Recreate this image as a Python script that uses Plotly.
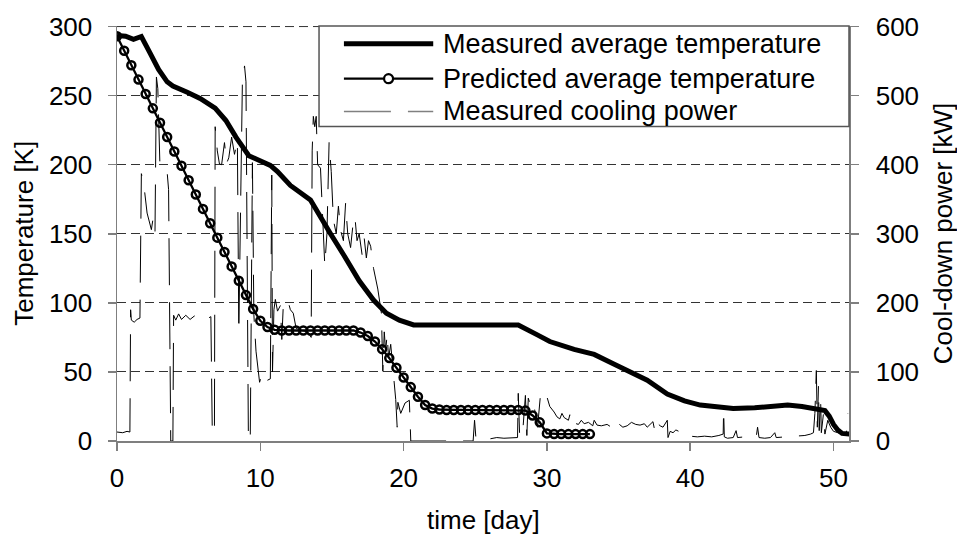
import plotly.graph_objects as go

# ---------------- data ----------------
meas_days = [0, 0.6, 1.15, 1.7, 2.3, 2.9, 3.5, 3.9, 4.9, 5.8, 6.85, 7.6, 8.3, 9.2, 9.75,
             10.7, 11.2, 12.1, 13.5, 14.2, 14.9, 15.8, 16.9, 17.9, 18.8, 19.7, 20.7, 24, 28,
             29.3, 30.2, 31.9, 33.3, 34.7, 35.8, 37.0, 38.4, 39.6, 40.7, 42.0, 43.0, 44.5,
             46.0, 46.8, 47.8, 48.9, 49.4, 49.7, 50.0, 50.3, 50.6, 51.1]
meas_temp = [293.5, 293, 290.7, 292.8, 281, 269, 260, 257, 252.5, 248, 241, 232, 220, 206.5, 204,
             199.5, 195, 185, 174.5, 163, 150, 135, 116, 102, 92.5, 87.5, 84, 84, 84,
             77, 72, 66.3, 62.7, 55.6, 50, 44, 34, 29, 26, 24.5, 23.5, 24,
             25, 26, 25, 23.5, 22, 18, 12, 8, 5.5, 5]

pred_days = [0, 0.5, 1, 1.5, 2, 2.5, 3, 3.5, 4, 4.5, 5, 5.5, 6, 6.5, 7, 7.5, 8, 8.5, 9, 9.5,
             10, 10.5, 11, 11.5, 12, 12.5, 13, 13.5, 14, 14.5, 15, 15.5, 16, 16.5, 17, 17.5,
             18, 18.5, 19, 19.5, 20, 20.5, 21, 21.5, 22, 22.5, 23, 23.5, 24, 24.5, 25, 25.5,
             26, 26.5, 27, 27.5, 28, 28.5, 29, 29.5, 30, 30.5, 31, 31.5, 32, 32.5, 33]
pred_temp = [293, 282.5, 272, 261.6, 251.2, 240.8, 230.4, 220, 209.6, 199.2, 188.8, 178.4, 168,
             157.6, 147.2, 136.8, 126.4, 116, 105.6, 95.5, 87, 82.5, 80.5, 80, 80, 80, 80, 80,
             80, 80, 80, 80, 80, 80, 78.5, 76, 72, 66.5, 60, 53, 46, 39, 32, 26, 23.5, 22.8,
             22.5, 22.5, 22.5, 22.5, 22.5, 22.5, 22.5, 22.5, 22.5, 22.5, 22.5, 22, 18.5, 13.5,
             5.5, 5, 5, 5, 5, 5, 5]

cool_days = [0.0, 0.4, 0.7, 0.9, 0.95, 1.0, 1.2, 1.4, 1.6, 1.7, 1.85, 2.1, 2.4, 2.5, 2.65, 2.75,
             2.85, 3.0, 3.3, 3.5, 3.6, 3.75, 3.9, 3.95, 4.1, 4.3, 4.5, 4.8, 5.1, 5.4, 5.7, 6.0,
             6.3, 6.55, 6.65, 6.8, 6.85, 7.0, 7.15, 7.3, 7.5, 7.65, 7.8, 8.0, 8.2, 8.4, 8.5,
             8.6, 8.75, 8.9, 9.0, 9.17, 9.3, 9.45, 9.55, 9.7, 9.95, 10.05, 10.2, 10.35, 10.5,
             10.7, 10.8, 10.85, 10.95, 11.05, 11.2, 11.4, 11.5, 11.6, 11.75, 11.9, 12.1, 12.3,
             12.5, 12.9, 13.3, 13.55, 13.62, 13.7, 13.8, 13.9, 14.0, 14.2, 14.5, 14.65, 14.8,
             14.95, 15.1, 15.3, 15.45, 15.6, 15.8, 15.95, 16.1, 16.3, 16.45, 16.6, 16.75, 16.9,
             17.1, 17.25, 17.4, 17.55, 17.7, 17.9, 18.2, 18.45, 18.55, 18.65, 18.75, 18.85,
             18.95, 19.1, 19.3, 19.45, 19.55, 19.6, 19.8, 20.1, 20.4, 20.5, 24.85, 24.95, 25.05,
             25.5, 26.0, 26.5, 27.0, 27.5, 27.95, 28.0, 28.1, 28.3, 28.5, 28.6, 28.7, 28.85,
             29.0, 29.15, 29.35, 29.55, 29.8, 30.0, 30.2, 30.5, 30.7, 30.9, 31.05, 31.2, 31.5,
             31.6, 31.65, 31.9, 32.2, 32.4, 32.6, 32.9, 33.2, 33.3, 33.5, 33.8, 34.2, 34.5,
             34.6, 34.8, 35.0, 35.3, 35.6, 35.9, 36.2, 36.5, 36.8, 37.0, 37.2, 37.4, 37.55,
             37.7, 37.9, 38.1, 38.4, 38.45, 38.6, 38.8, 39.0, 39.3, 39.5, 39.7, 40.0, 40.5,
             41.0, 41.5, 42.0, 42.3, 42.33, 42.38, 42.6, 43.0, 43.2, 43.3, 43.8, 44.2, 44.6,
             44.7, 44.8, 45.2, 45.6, 45.9, 46.0, 46.5, 47.0, 47.5, 48.0, 48.4, 48.6, 48.7,
             48.8, 48.87, 48.95, 49.0, 49.1, 49.15, 49.3, 49.4, 49.6, 49.8, 50.0, 50.3, 50.6,
             50.9, 51.0]
cool_kw = [13, 12, 14, 13, 190, 175, 172, 176, 178, 387, 375, 330, 306, 320, 300, 527,
           510, 396, 390, 389, 364, 0, 0, 182, 175, 184, 176, 182, 176, 181, 176, 180,
           177, 180, 11, 12, 455, 420, 401, 400, 432, 402, 410, 440, 415, 435, 158,
           300, 520, 543, 520, 0, 5, 403, 183, 130, 85, 92, 86, 94, 88,
           90, 385, 100, 190, 205, 188, 196, 147, 194, 198, 205, 190, 185,
           163, 160, 158, 150, 420, 470, 455, 470, 400, 395, 254, 300, 432,
           390, 320, 300, 340, 305, 290, 344, 300, 280, 310, 325, 290, 300,
           270, 294, 265, 290, 282, 250, 220, 185, 101, 158, 130, 155,
           120, 140, 100, 60, 20, 56, 40, 55, 59, 0, 0, 30, 3,
           4, 3, 5, 4, 4, 5, 69, 6, 10, 66, 8, 62, 52,
           58, 45, 20, 67, 58, 64, 50, 42, 35, 32, 40, 34, 30,
           38, 22, 26, 24, 30, 25, 27, 22, 30, 23, 22, 24, 20,
           28, 22, 25, 20, 22, 27, 24, 23, 25, 20, 24, 28, 12,
           26, 22, 20, 30, 5, 14, 12, 16, 13, 15, 8, 7, 6,
           7, 6, 8, 10, 45, 6, 4, 5, 15, 5, 6, 7, 5,
           20, 5, 4, 5, 12, 5, 6, 6, 7, 8, 10, 12, 40,
           102, 20, 80, 15, 60, 12, 40, 10, 30, 20, 14, 12, 10,
           12, 40]

x_ticks = [0, 10, 20, 30, 40, 50]
temp_ticks = [0, 50, 100, 150, 200, 250, 300]
power_ticks = [0, 100, 200, 300, 400, 500, 600]

legend_names = ["Measured average temperature", "Predicted average temperature",
                "Measured cooling power"]

# ---------------- figure ----------------
FONT = "Liberation Sans, Arial, sans-serif"
AXC = "#7f7f7f"
GRIDC = "#333333"
GRIDDASH = "9px,5px"

fig = go.Figure()
fig.add_trace(go.Scatter(x=meas_days, y=meas_temp, mode="lines", name=legend_names[0],
                         line=dict(color="black", width=5), showlegend=False))
fig.add_trace(go.Scatter(x=pred_days, y=pred_temp, mode="lines+markers", name=legend_names[1],
                         line=dict(color="black", width=2.3),
                         marker=dict(symbol="circle-open", size=8, color="black",
                                     line=dict(width=2.5, color="black")),
                         showlegend=False))
fig.add_trace(go.Scatter(x=cool_days, y=cool_kw, mode="lines", name=legend_names[2],
                         yaxis="y2", line=dict(color="black", width=1, dash="47px,17px"),
                         showlegend=False))

fig.update_layout(
    width=957, height=544,
    margin=dict(l=117, r=108, t=20, b=103),
    paper_bgcolor="white", plot_bgcolor="white",
    font=dict(family=FONT, size=26, color="black"),
    xaxis=dict(range=[0, 51.08], tickvals=x_ticks, ticks="outside", ticklen=8,
               tickcolor=AXC, tickwidth=1.5, showline=True, linecolor=AXC, linewidth=1.5,
               showgrid=False, zeroline=False, ticklabelstandoff=5,
               tickfont=dict(size=26)),
    yaxis=dict(range=[0, 300.4], tickvals=temp_ticks, ticks="outside", ticklen=8,
               tickcolor=AXC, tickwidth=1.5, showline=True, linecolor=AXC, linewidth=1.5,
               showgrid=True, gridcolor=GRIDC, gridwidth=1, griddash=GRIDDASH,
               zeroline=False, ticklabelstandoff=10, tickfont=dict(size=26)),
    yaxis2=dict(range=[0, 600.8], tickvals=power_ticks, overlaying="y", side="right",
                ticks="outside", ticklen=8, tickcolor=AXC, tickwidth=1.5, showline=True,
                linecolor=AXC, linewidth=1.5, showgrid=False, zeroline=False,
                ticklabelstandoff=12, tickfont=dict(size=26)),
    showlegend=False,
)

# top gridline at the last temperature tick (plotly may skip grid lines at the edge)
fig.add_shape(type="line", xref="paper", yref="y", x0=0, x1=1,
              y0=temp_ticks[-1], y1=temp_ticks[-1],
              line=dict(color=GRIDC, width=1, dash=GRIDDASH), layer="below")

# axis titles
fig.add_annotation(text="time [day]", xref="paper", yref="paper", x=0.5, y=-0.19,
                   showarrow=False, font=dict(size=26), xanchor="center", yanchor="middle")
fig.add_annotation(text="Temperature [K]", xref="paper", yref="paper", x=-0.128, y=0.5,
                   textangle=-90, showarrow=False, font=dict(size=26),
                   xanchor="center", yanchor="middle")
fig.add_annotation(text="Cool-down power [kW]", xref="paper", yref="paper", x=1.128, y=0.5,
                   textangle=-90, showarrow=False, font=dict(size=26),
                   xanchor="center", yanchor="middle")

# custom legend
lx0, lx1 = 0.276, 1.0
ly0, ly1 = 0.758, 1.0
fig.add_shape(type="rect", xref="paper", yref="paper", x0=lx0, x1=lx1, y0=ly0, y1=ly1,
              line=dict(color="#555555", width=1.5), fillcolor="white", layer="above")
rows = [0.957, 0.873, 0.794]
sx0, sx1 = 0.310, 0.432
fig.add_shape(type="line", xref="paper", yref="paper", x0=sx0, x1=sx1, y0=rows[0], y1=rows[0],
              line=dict(color="black", width=5), layer="above")
fig.add_shape(type="line", xref="paper", yref="paper", x0=sx0, x1=sx1, y0=rows[1], y1=rows[1],
              line=dict(color="black", width=2.3), layer="above")
fig.add_shape(type="circle", xref="paper", yref="paper", xsizemode="pixel", ysizemode="pixel",
              xanchor=(sx0 + sx1) / 2, yanchor=rows[1], x0=-4.5, x1=4.5, y0=-4.5, y1=4.5,
              line=dict(color="black", width=2.2), fillcolor="white", layer="above")
fig.add_shape(type="line", xref="paper", yref="paper", x0=sx0, x1=sx1, y0=rows[2], y1=rows[2],
              line=dict(color="#808080", width=1.5, dash="47px,17px"), layer="above")
for name, ry in zip(legend_names, rows):
    fig.add_annotation(text=name, xref="paper", yref="paper", x=0.4425, y=ry,
                       xanchor="left", yanchor="middle", showarrow=False,
                       font=dict(size=27))

fig.write_html("out.html",
               config={"displayModeBar": False, "staticPlot": True},
               post_script="document.body.style.margin='0px';"
                           "document.body.style.overflow='hidden';")
